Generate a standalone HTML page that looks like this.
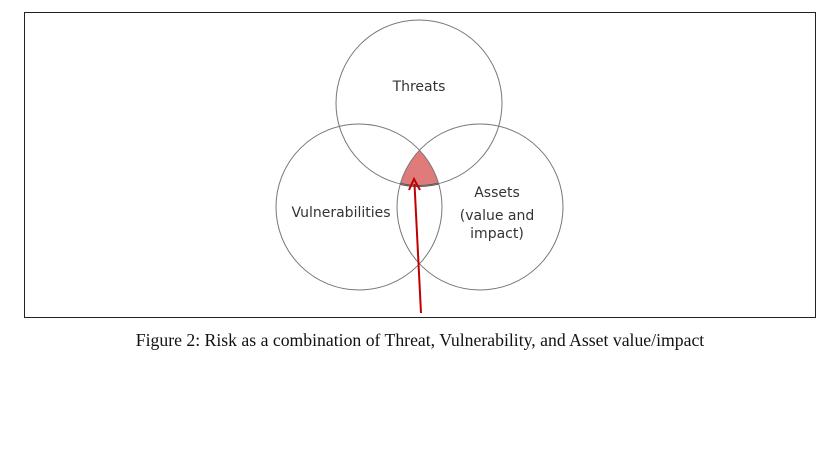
<!DOCTYPE html>
<html><head><style>
html,body{margin:0;padding:0;background:#fff;}
svg{display:block}
</style></head><body>
<svg width="839" height="460" viewBox="0 0 839 460" xmlns="http://www.w3.org/2000/svg">
<defs>
<clipPath id="cv"><circle cx="359" cy="207" r="83"/></clipPath>
<clipPath id="ca"><circle cx="480" cy="207" r="83"/></clipPath>
</defs>
<rect x="24.5" y="12.5" width="791" height="305" fill="#fff" stroke="#222" stroke-width="1"/>
<g clip-path="url(#cv)"><g clip-path="url(#ca)">
<circle cx="419" cy="103" r="83" fill="#e07b7b" stroke="#444" stroke-width="2"/>
</g></g>
<circle cx="419" cy="103" r="83" fill="none" stroke="#777" stroke-width="1"/>
<circle cx="359" cy="207" r="83" fill="none" stroke="#777" stroke-width="1"/>
<circle cx="480" cy="207" r="83" fill="none" stroke="#777" stroke-width="1"/>
<g font-family="'DejaVu Sans','Liberation Sans',sans-serif" font-size="14" fill="#333" text-anchor="middle">
<text x="419" y="91">Threats</text>
<text x="341" y="217">Vulnerabilities</text>
<text x="497" y="197">Assets</text>
<text x="497" y="220">(value and</text>
<text x="497" y="238">impact)</text>
</g>
<line x1="421" y1="313" x2="414.5" y2="184" stroke="#c00000" stroke-width="2"/>
<polyline points="409,190 414,179 420,190" fill="none" stroke="#c00000" stroke-width="2"/>
<text x="420" y="346" font-family="'Liberation Serif',serif" font-size="17.7" fill="#111" text-anchor="middle">Figure 2: Risk as a combination of Threat, Vulnerability, and Asset value/impact</text>
</svg>
</body></html>
